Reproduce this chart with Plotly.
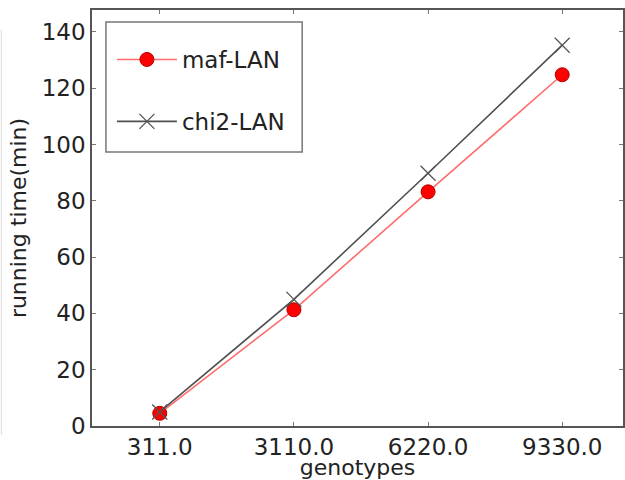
import plotly.graph_objects as go

genotypes = ["311.0", "3110.0", "6220.0", "9330.0"]
maf_lan = [4.5, 41.3, 83.2, 124.8]
chi2_lan = [5.0, 45.0, 89.8, 135.3]
y_ticks = [0, 20, 40, 60, 80, 100, 120, 140]

W, H = 625, 480
L, R, T, B = 92, 0, 10, 54
pw, ph = W - L - R, H - T - B

def px(x):
    return (x - L) / pw

def py(y):
    return (H - B - y) / ph

fig = go.Figure()
fig.add_trace(go.Scatter(
    x=genotypes, y=maf_lan, name="maf-LAN", mode="lines+markers",
    line=dict(color="rgba(255,60,60,0.75)", width=1.6),
    marker=dict(symbol="circle", size=14, color="#ff0000",
                line=dict(color="#b00000", width=1)),
    legendgroup="a",
))
fig.add_trace(go.Scatter(
    x=genotypes, y=chi2_lan, name="chi2-LAN", mode="lines+markers",
    line=dict(color="#505050", width=1.6),
    marker=dict(symbol="x-thin", size=15, color="#555555",
                line=dict(color="#555555", width=1.3)),
    legendgroup="b",
))

font = dict(family="DejaVu Sans", size=23, color="#222222")
tfont = dict(family="DejaVu Sans", size=22, color="#222222")
fig.update_layout(
    width=W, height=H,
    margin=dict(l=L, r=R, t=T, b=B, pad=0),
    paper_bgcolor="white", plot_bgcolor="white",
    font=font,
    showlegend=True,
    legend=dict(x=px(112), y=py(38), xanchor="left", yanchor="top",
                bgcolor="rgba(0,0,0,0)", borderwidth=0,
                font=dict(family="DejaVu Sans", size=23, color="#222222"),
                tracegroupgap=29, itemwidth=60),
    xaxis=dict(
        type="category", range=[-0.505, 3.453],
        showgrid=False, zeroline=False,
        showline=True, linecolor="#555555", linewidth=1.5, mirror="allticks",
        ticks="inside", ticklen=4, tickcolor="#777777",
        tickfont=font,
        title=dict(text="genotypes", font=tfont, standoff=3),
    ),
    yaxis=dict(
        range=[0, 147.8], tickvals=y_ticks,
        showgrid=False, zeroline=False,
        showline=True, linecolor="#555555", linewidth=1.5, mirror="allticks",
        ticks="inside", ticklen=4, tickcolor="#777777",
        tickfont=font,
        title=dict(text="running time(min)", font=tfont, standoff=9),
    ),
    shapes=[dict(type="rect", xref="paper", yref="paper",
                 x0=px(106), x1=px(303), y0=py(152), y1=py(22),
                 line=dict(color="#777777", width=1.5), fillcolor="rgba(0,0,0,0)",
                 layer="above"),
            dict(type="line", xref="paper", yref="paper",
                 x0=px(1), x1=px(1), y0=py(435), y1=py(30),
                 line=dict(color="#dddddd", width=1))],
)

fig.write_html("out.html")
